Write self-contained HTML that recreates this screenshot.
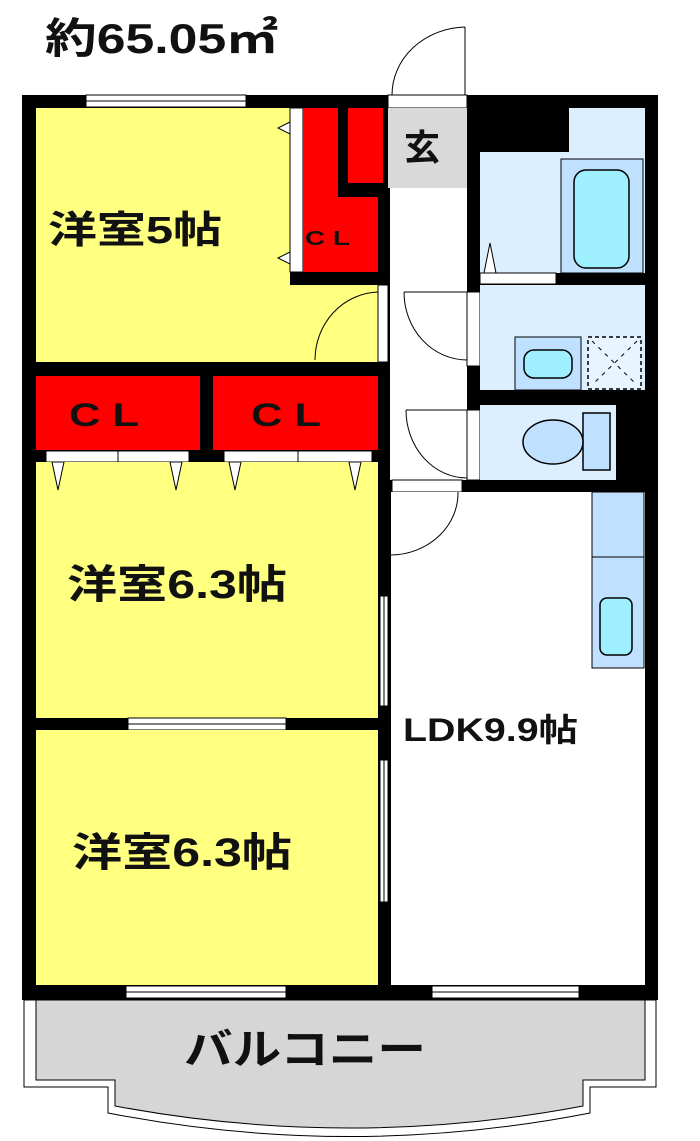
<!DOCTYPE html>
<html><head><meta charset="utf-8"><style>
html,body{margin:0;padding:0;background:#fff;width:700px;height:1141px;overflow:hidden}
svg text{font-family:"Liberation Sans","Noto Sans CJK JP",sans-serif;font-weight:bold;fill:#111}
</style></head><body>
<svg width="700" height="1141" viewBox="0 0 700 1141" xmlns="http://www.w3.org/2000/svg">
<rect width="700" height="1141" fill="#fff"/>
<text x="45" y="53" font-size="42" textLength="233" lengthAdjust="spacingAndGlyphs">約65.05㎡</text>

<path d="M465 27 A75 68 0 0 0 392 95" fill="none" stroke="#000" stroke-width="1"/>
<line x1="465" y1="27" x2="465" y2="95" stroke="#000" stroke-width="1"/>

<rect x="22" y="95" width="636" height="905" fill="#000"/>

<rect x="86" y="95" width="160" height="12" fill="#fff" stroke="#000" stroke-width="1"/>
<line x1="86" y1="101" x2="246" y2="101" stroke="#000" stroke-width="1"/>
<rect x="388" y="95" width="79" height="13" fill="#fff" stroke="#000" stroke-width="1"/>

<rect x="36" y="108" width="254" height="254" fill="#ffff80"/>
<rect x="290" y="285" width="88" height="77" fill="#ffff80"/>
<rect x="290" y="108" width="13" height="164" fill="#fff" stroke="#000" stroke-width="1"/>
<polygon points="290,122 278,128 290,134" fill="#fff" stroke="#000" stroke-width="1"/>
<polygon points="290,252 278,258 290,264" fill="#fff" stroke="#000" stroke-width="1"/>
<text x="48" y="243" font-size="38" textLength="174" lengthAdjust="spacingAndGlyphs">洋室5帖</text>
<rect x="303" y="108" width="35" height="164" fill="#f00"/>
<rect x="348" y="108" width="35" height="75" fill="#f00"/>
<rect x="303" y="197" width="75" height="75" fill="#f00"/>
<text x="305" y="245" font-size="20" font-weight="normal" textLength="45" lengthAdjust="spacingAndGlyphs">C L</text>
<rect x="378" y="285" width="10" height="77" fill="#fff" stroke="#000" stroke-width="1"/>
<path d="M378 292 A65 68 0 0 0 315 360" fill="none" stroke="#000" stroke-width="1"/>

<rect x="388" y="108" width="79" height="80" fill="#d9d9d9"/>
<text x="404" y="160" font-size="36" font-weight="normal">玄</text>
<rect x="390" y="188" width="77" height="292" fill="#fff"/>
<rect x="392" y="480" width="70" height="12" fill="#fff" stroke="#000" stroke-width="1"/>
<rect x="467" y="292" width="13" height="74" fill="#fff" stroke="#000" stroke-width="1"/>
<path d="M404 292 A63 68 0 0 0 467 360" fill="none" stroke="#000" stroke-width="1"/>
<line x1="404" y1="292" x2="467" y2="292" stroke="#000" stroke-width="1"/>
<rect x="467" y="410" width="13" height="70" fill="#fff" stroke="#000" stroke-width="1"/>
<path d="M406 410 A61 68 0 0 0 467 478" fill="none" stroke="#000" stroke-width="1"/>
<line x1="406" y1="410" x2="467" y2="410" stroke="#000" stroke-width="1"/>

<rect x="480" y="152" width="165" height="121" fill="#dcefff"/>
<rect x="569" y="108" width="76" height="44" fill="#dcefff"/>
<rect x="561" y="159" width="82" height="114" fill="#bfe0ff" stroke="#000" stroke-width="1"/>
<rect x="574" y="170" width="55" height="98" rx="12" fill="#9eefff" stroke="#000" stroke-width="1.5"/>
<polygon points="484,273 490,243 496,273" fill="#fff" stroke="#000" stroke-width="1"/>
<rect x="480" y="273" width="76" height="11" fill="#fff" stroke="#000" stroke-width="1"/>
<rect x="480" y="285" width="165" height="105" fill="#dcefff"/>
<rect x="515" y="337" width="66" height="53" fill="#bfe0ff" stroke="#000" stroke-width="1"/>
<rect x="524" y="350" width="48" height="28" rx="10" fill="#9eefff" stroke="#000" stroke-width="1.5"/>
<rect x="588" y="337" width="53" height="52" fill="#e8f4ff" stroke="#000" stroke-width="1.5" stroke-dasharray="4,3"/>
<line x1="592" y1="341" x2="637" y2="385" stroke="#000" stroke-dasharray="4,5"/>
<line x1="637" y1="341" x2="592" y2="385" stroke="#000" stroke-dasharray="4,5"/>
<rect x="480" y="405" width="136" height="75" fill="#dcefff"/>
<rect x="583" y="413" width="27" height="57" fill="#bfe0ff" stroke="#000" stroke-width="1.5"/>
<ellipse cx="553" cy="442" rx="30" ry="22" fill="#bfe0ff" stroke="#000" stroke-width="1.5"/>

<rect x="36" y="376" width="164" height="74" fill="#f00"/>
<rect x="213" y="376" width="165" height="74" fill="#f00"/>
<text x="69" y="426" font-size="32" font-weight="normal" textLength="70" lengthAdjust="spacingAndGlyphs">C L</text>
<text x="251" y="426" font-size="32" font-weight="normal" textLength="70" lengthAdjust="spacingAndGlyphs">C L</text>
<rect x="46" y="451" width="143" height="11" fill="#fff" stroke="#000" stroke-width="1"/>
<line x1="118" y1="451" x2="118" y2="462" stroke="#000"/>
<rect x="224" y="451" width="148" height="11" fill="#fff" stroke="#000" stroke-width="1"/>
<line x1="298" y1="451" x2="298" y2="462" stroke="#000"/>

<rect x="36" y="462" width="342" height="256" fill="#ffff80"/>
<polygon points="52,462 64,462 58,490" fill="#fff" stroke="#000" stroke-width="1"/>
<polygon points="170,462 182,462 176,490" fill="#fff" stroke="#000" stroke-width="1"/>
<polygon points="229,462 241,462 235,490" fill="#fff" stroke="#000" stroke-width="1"/>
<polygon points="349,462 361,462 355,490" fill="#fff" stroke="#000" stroke-width="1"/>
<text x="67" y="598" font-size="40" textLength="220" lengthAdjust="spacingAndGlyphs">洋室6.3帖</text>
<rect x="128" y="718" width="158" height="12" fill="#fff" stroke="#000" stroke-width="1"/>
<line x1="128" y1="724" x2="286" y2="724" stroke="#000"/>
<rect x="36" y="730" width="342" height="255" fill="#ffff80"/>
<text x="72" y="866" font-size="40" textLength="220" lengthAdjust="spacingAndGlyphs">洋室6.3帖</text>

<rect x="391" y="492" width="254" height="493" fill="#fff"/>
<path d="M458 492 A68 62 0 0 1 391 555" fill="none" stroke="#000" stroke-width="1"/>
<rect x="380" y="596" width="8" height="110" fill="#fff" stroke="#000" stroke-width="1"/>
<line x1="384" y1="596" x2="384" y2="706" stroke="#000"/>
<rect x="380" y="760" width="8" height="142" fill="#fff" stroke="#000" stroke-width="1"/>
<line x1="384" y1="760" x2="384" y2="902" stroke="#000"/>
<rect x="592" y="492" width="52" height="65" fill="#bfe0ff" stroke="#000" stroke-width="1"/>
<rect x="592" y="557" width="52" height="111" fill="#bfe0ff" stroke="#000" stroke-width="1"/>
<rect x="600" y="598" width="32" height="57" rx="7" fill="#9eefff" stroke="#000" stroke-width="1.5"/>
<text x="403" y="741" font-size="32" textLength="175" lengthAdjust="spacingAndGlyphs">LDK9.9帖</text>

<rect x="126" y="986" width="160" height="12" fill="#fff" stroke="#000" stroke-width="1"/>
<line x1="126" y1="992" x2="286" y2="992" stroke="#000"/>
<rect x="432" y="986" width="147" height="12" fill="#fff" stroke="#000" stroke-width="1"/>
<line x1="432" y1="992" x2="579" y2="992" stroke="#000"/>

<path d="M24 1000 L656 1000 L656 1087 L590 1087 L590 1113 Q350 1160 108 1113 L108 1087 L24 1087 Z" fill="#fff" stroke="#000" stroke-width="1"/>
<path d="M36 1000 L645 1000 L645 1080 L583 1080 L583 1106 Q350 1150 115 1106 L115 1080 L36 1080 Z" fill="#d6d6d6" stroke="#000" stroke-width="1"/>
<text x="184" y="1064" font-size="42" textLength="242" lengthAdjust="spacingAndGlyphs">バルコニー</text>
</svg>
</body></html>
